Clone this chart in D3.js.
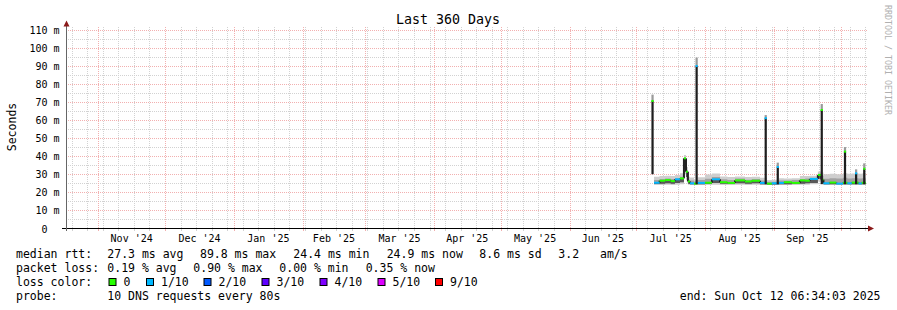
<!DOCTYPE html>
<html>
<head>
<meta charset="utf-8">
<script src="https://cdn.jsdelivr.net/npm/d3@7.9.0/dist/d3.min.js"></script>
<style>
  body { margin: 0; background: #fff; }
  svg { display: block; font-family: "DejaVu Sans Mono", monospace; }
</style>
</head>
<body>
<svg id="chart" width="897" height="310"></svg>
<script>
const parseTime = d3.timeParse("%Y-%m-%d %H:%M");
const startTime = parseTime("2024-10-17 06:34");
const endTime = parseTime("2025-10-12 06:34");

// y axis ticks (ms)
const yTickValues = [0, 10, 20, 30, 40, 50, 60, 70, 80, 90, 100, 110];
const yMinorValues = [5, 15, 25, 35, 45, 55, 65, 75, 85, 95, 105];

// month grid + labels
const monthStarts = ["2024-11-01", "2024-12-01", "2025-01-01", "2025-02-01", "2025-03-01", "2025-04-01",
  "2025-05-01", "2025-06-01", "2025-07-01", "2025-08-01", "2025-09-01", "2025-10-01"];
const monthLabels = ["Nov '24", "Dec '24", "Jan '25", "Feb '25", "Mar '25", "Apr '25",
  "May '25", "Jun '25", "Jul '25", "Aug '25", "Sep '25"];

// smoke + median samples (step series, each value holds until the next time)
const sampleTimes = [
  "2025-07-09 00:00", "2025-07-11 12:00", "2025-07-14 00:00", "2025-07-16 12:00", "2025-07-18 10:00",
  "2025-07-20 16:00", "2025-07-22 11:00", "2025-07-23 09:00", "2025-07-24 06:00", "2025-07-25 04:00",
  "2025-07-27 00:00", "2025-07-28 12:00", "2025-07-31 22:00", "2025-08-04 01:00", "2025-08-07 16:00",
  "2025-08-11 00:00", "2025-08-14 10:00", "2025-08-18 22:00", "2025-08-22 00:00", "2025-08-25 16:00",
  "2025-08-28 20:00", "2025-08-31 00:00", "2025-09-03 05:00", "2025-09-05 10:00", "2025-09-09 00:00",
  "2025-09-12 15:00", "2025-09-15 00:00", "2025-09-17 02:00", "2025-09-20 17:00", "2025-09-22 08:00",
  "2025-09-23 05:00", "2025-09-26 00:00", "2025-09-29 00:00", "2025-10-02 00:00", "2025-10-04 00:00",
  "2025-10-06 00:00", "2025-10-09 00:00", "2025-10-10 12:00"];
const smokeMin = [
  24.0, 24.0, 24.2, 24.0, 24.2, 24.4, 30.0, 27.0, 24.2, 24.0,
  24.0, 24.0, 24.0, 24.2, 24.0, 24.0, 24.2, 24.0, 24.2, 24.0,
  24.0, 24.0, 24.0, 24.0, 24.0, 24.2, 24.2, 24.4, 26.0, 24.6,
  24.0, 24.0, 24.0, 24.0, 24.0, 24.0, 24.0, 24.0];
const smokeLow = [
  24.6, 24.8, 25.0, 24.8, 25.2, 25.6, 33.0, 28.5, 24.8, 24.4,
  24.4, 24.5, 24.6, 25.2, 24.8, 24.6, 25.0, 24.8, 25.0, 24.4,
  24.3, 24.3, 24.4, 24.5, 24.6, 24.8, 25.0, 25.2, 27.5, 25.5,
  24.4, 24.5, 24.4, 24.5, 24.4, 24.5, 24.4, 24.5];
const smokeHigh = [
  26.8, 27.3, 27.6, 27.4, 27.8, 28.6, 39.0, 32.0, 27.0, 26.5,
  26.0, 26.8, 27.5, 28.4, 27.2, 26.8, 27.6, 27.0, 27.4, 26.6,
  25.8, 25.8, 26.5, 26.6, 26.8, 27.4, 27.6, 28.0, 30.2, 29.0,
  27.5, 27.8, 27.6, 28.0, 27.6, 27.8, 27.6, 27.8];
const smokeMax = [
  28.6, 29.0, 29.2, 29.0, 29.6, 30.5, 40.6, 34.0, 28.6, 28.2,
  27.0, 28.3, 29.8, 30.4, 28.8, 28.4, 28.8, 28.4, 28.6, 28.0,
  26.8, 27.0, 27.8, 27.6, 27.8, 29.0, 29.0, 29.2, 31.5, 31.0,
  30.0, 30.2, 30.0, 30.5, 30.2, 30.4, 30.2, 30.4];
const medianRtt = [
  25.3, 26.4, 26.8, 26.2, 27.2, 27.7, 38.8, 31.4, 26.0, 25.0,
  24.8, 25.2, 25.3, 27.2, 25.6, 25.2, 26.6, 26.0, 26.4, 25.2,
  24.8, 25.0, 25.2, 25.6, 25.2, 26.6, 26.4, 27.4, 29.6, 27.0,
  25.0, 25.4, 24.8, 25.3, 25.0, 25.4, 24.9, 25.3];
const lossLevel = [
  1, 0, 0, 0, 1, 0, 0, 0, 0, 1,
  0, 1, 0, 1, 0, 0, 0, 0, 0, 1,
  0, 1, 1, 0, 0, 0, 0, 1, 0, 0,
  1, 0, 1, 0, 1, 0, 1, 0];

// short latency spikes
const spikeTimes = ["2025-07-07 20:00", "2025-07-27 16:00", "2025-08-27 18:00", "2025-09-02 04:00",
  "2025-09-21 23:00", "2025-10-02 10:00", "2025-10-07 10:00", "2025-10-11 02:00"];
const spikeFloor = [30.0, 24.5, 24.5, 24.5, 24.5, 24.5, 24.5, 24.5];
const spikeMedian = [70.5, 89.8, 61.0, 34.0, 65.5, 42.5, 30.5, 33.0];
const spikeTop = [74.0, 94.5, 62.7, 36.4, 68.8, 45.0, 32.7, 36.0];
const spikeLoss = [0, 1, 1, 1, 0, 0, 1, 0];

// legend
const lossColors = ["#26ff00", "#00b8ff", "#0059ff", "#5e00ff", "#7e00ff", "#dd00ff", "#ff0000"];
const lossLabels = ["0", "1/10", "2/10", "3/10", "4/10", "5/10", "9/10"];
const rttStats = ["27.3 ms avg", "89.8 ms max", "24.4 ms min", "24.9 ms now", "8.6 ms sd", "3.2", "am/s"];
const lossStats = ["0.19 % avg", "0.90 % max", "0.00 % min", "0.35 % now"];

const svg = d3.select("#chart");

const x = d3.scaleTime().domain([startTime, endTime]).range([65.6, 865.8]);
const y = d3.scaleLinear().domain([0, 110]).range([228.5, 29.5]);
const px = v => Math.round(x(v)) + 0.5;
const py = v => Math.round(y(v)) + 0.5;

const plotLeft = 66.5, plotRight = 868;
const minorColor = "#d2d2d2", majorColor = "#f2b0b0";

// horizontal grid
const grid = svg.append("g").attr("shape-rendering", "crispEdges");
grid.append("g").selectAll("line").data(yMinorValues).join("line")
  .attr("x1", plotLeft + 1).attr("x2", plotRight)
  .attr("y1", d => py(d)).attr("y2", d => py(d))
  .attr("stroke", minorColor).attr("stroke-dasharray", "1,1");
grid.append("g").selectAll("line").data(yTickValues.filter(d => d > 0)).join("line")
  .attr("x1", plotLeft + 1).attr("x2", plotRight)
  .attr("y1", d => py(d)).attr("y2", d => py(d))
  .attr("stroke", majorColor).attr("stroke-dasharray", "1,1");

// vertical grid: weeks (Sunday) and months
const weeks = d3.timeSunday.range(startTime, endTime);
const months = monthStarts.map(d => d3.timeParse("%Y-%m-%d")(d));
grid.append("g").selectAll("line").data(weeks).join("line")
  .attr("x1", d => px(d)).attr("x2", d => px(d))
  .attr("y1", 27).attr("y2", 228)
  .attr("stroke", minorColor).attr("stroke-dasharray", "1,1");
grid.append("g").selectAll("line").data(months).join("line")
  .attr("x1", d => px(d)).attr("x2", d => px(d))
  .attr("y1", 27).attr("y2", 228)
  .attr("stroke", majorColor).attr("stroke-dasharray", "1,1");

// smoke
const rows = sampleTimes.map((t, i) => ({
  t: parseTime(t), min: smokeMin[i], low: smokeLow[i], high: smokeHigh[i],
  max: smokeMax[i], med: medianRtt[i], loss: lossLevel[i]
}));
const stepRows = rows.concat([{ ...rows[rows.length - 1], t: endTime }]);

const band = (lo, hi) => d3.area().curve(d3.curveStepAfter)
  .x(d => x(d.t)).y0(d => y(d[lo])).y1(d => y(d[hi]));

svg.append("path").datum(stepRows).attr("fill", "#cecece").attr("d", band("min", "max"));
svg.append("path").datum(stepRows).attr("fill", "#a2a2a2").attr("d", band("low", "high"));
svg.append("path").datum(stepRows).attr("fill", "#585858").attr("d", band("low", "med"));

// median: dark vertical steps, horizontal runs coloured by loss
svg.append("g").selectAll("line").data(rows.slice(1)).join("line")
  .attr("x1", d => x(d.t)).attr("x2", d => x(d.t))
  .attr("y1", (d, i) => y(rows[i].med)).attr("y2", d => y(d.med))
  .attr("stroke", "#222").attr("stroke-width", 2);
svg.append("g").selectAll("line").data(rows).join("line")
  .attr("x1", d => x(d.t)).attr("x2", (d, i) => x(stepRows[i + 1].t))
  .attr("y1", d => y(d.med)).attr("y2", d => y(d.med))
  .attr("stroke", d => lossColors[d.loss]).attr("stroke-width", 2);

// spikes
const spikes = spikeTimes.map((t, i) => ({
  t: parseTime(t), floor: spikeFloor[i], med: spikeMedian[i], top: spikeTop[i], loss: spikeLoss[i]
}));
const sw = d => Math.max(2, x(d3.timeHour.offset(d.t, 24)) - x(d.t));
const sg = svg.append("g");
sg.selectAll(".cap").data(spikes).join("rect").attr("class", "cap")
  .attr("x", d => x(d.t)).attr("width", sw)
  .attr("y", d => y(d.top)).attr("height", d => y(d.med) - y(d.top))
  .attr("fill", "#9a9a9a");
sg.selectAll(".bar").data(spikes).join("rect").attr("class", "bar")
  .attr("x", d => x(d.t)).attr("width", sw)
  .attr("y", d => y(d.med)).attr("height", d => y(d.floor) - y(d.med))
  .attr("fill", "#1e1e1e");
sg.selectAll(".dot").data(spikes).join("rect").attr("class", "dot")
  .attr("x", d => x(d.t)).attr("width", sw)
  .attr("y", d => y(d.med) - 1).attr("height", 2)
  .attr("fill", d => lossColors[d.loss]);

// axes
svg.append("line").attr("x1", 62).attr("x2", plotRight).attr("y1", 228.5).attr("y2", 228.5)
  .attr("stroke", "#000");
svg.append("line").attr("x1", plotLeft).attr("x2", plotLeft).attr("y1", 231).attr("y2", 25)
  .attr("stroke", "#666");
svg.append("path").attr("d", "M63.5,26.5L66.5,20.5L69.5,26.5Z").attr("fill", "#8b1a1a");
svg.append("path").attr("d", "M868,225.5L874,228.5L868,231.5Z").attr("fill", "#8b1a1a");

// x ticks
svg.append("g").selectAll("line").data(weeks).join("line")
  .attr("x1", d => px(d)).attr("x2", d => px(d)).attr("y1", 229).attr("y2", 231)
  .attr("stroke", minorColor);
svg.append("g").selectAll("line").data(months).join("line")
  .attr("x1", d => px(d)).attr("x2", d => px(d)).attr("y1", 229).attr("y2", 231)
  .attr("stroke", majorColor);

// y labels
svg.append("g").selectAll("text").data(yTickValues).join("text")
  .attr("x", 59.5).attr("y", d => py(d) + 3.8)
  .attr("text-anchor", "end").attr("font-size", "10px").attr("fill", "#000")
  .text(d => d === 0 ? "0\u00a0\u00a0" : `${d} m`);

// month labels centred in each month
svg.append("g").selectAll("text").data(monthLabels).join("text")
  .attr("x", (d, i) => (x(months[i]) + x(months[i + 1])) / 2)
  .attr("y", 242).attr("text-anchor", "middle").attr("font-size", "10px")
  .text(d => d);

// title, axis label, watermark
svg.append("text").attr("x", 448).attr("y", 24).attr("text-anchor", "middle")
  .attr("font-size", "13.3px").text("Last 360 Days");
svg.append("text").attr("transform", "translate(15.5,127) rotate(-90)")
  .attr("text-anchor", "middle").attr("font-size", "11.5px").text("Seconds");
svg.append("text").attr("transform", "translate(885,5) rotate(90)")
  .attr("font-size", "8.3px").attr("fill", "#b0b0b0").text("RRDTOOL / TOBI OETIKER");

// legend
const lg = svg.append("g").attr("font-size", "11.5px").attr("fill", "#000");
lg.append("text").attr("x", 16).attr("y", 258).text("median rtt:");
const rttX = [107.3, 200, 293.3, 386.7, 479.3, 558.3, 600];
rttStats.forEach((s, i) => lg.append("text").attr("x", rttX[i]).attr("y", 258).text(s));
lg.append("text").attr("x", 16).attr("y", 272).text("packet loss:");
const lossX = [107.3, 193.3, 279.3, 365.7];
lossStats.forEach((s, i) => lg.append("text").attr("x", lossX[i]).attr("y", 272).text(s));
lg.append("text").attr("x", 16).attr("y", 286).text("loss color:");
const boxX = [108.5, 146, 203.5, 261.5, 319.5, 377.5, 435];
lossColors.forEach((c, i) => {
  lg.append("rect").attr("x", boxX[i] + 0.5).attr("y", 278.5).attr("width", 7).attr("height", 7)
    .attr("fill", c).attr("stroke", "#000");
  lg.append("text").attr("x", boxX[i] + 15).attr("y", 286).text(lossLabels[i]);
});
lg.append("text").attr("x", 16).attr("y", 300).text("probe:");
lg.append("text").attr("x", 107.3).attr("y", 300).text("10 DNS requests every 80s");
lg.append("text").attr("x", 880.5).attr("y", 300).attr("text-anchor", "end")
  .text("end: Sun Oct 12 06:34:03 2025");
</script>
</body>
</html>
